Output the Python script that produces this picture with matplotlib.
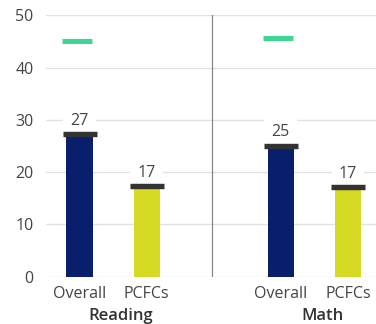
import matplotlib.pyplot as plt
import numpy as np

plt.rcParams['font.family'] = ['Open Sans', 'DejaVu Sans']

subjects = ['Reading', 'Math']
groups = ['Overall', 'PCFCs']
overall = [27.2, 25.0]
pcfcs = [17.3, 17.1]
targets = [45.0, 45.7]

navy = '#0a1f6b'
yellow = '#d6da22'
cap_col = '#333333'
green = '#3fd693'
txt = '#444444'

fig = plt.figure(figsize=(3.76, 3.24), dpi=100)
ax = fig.add_axes([46 / 376, 47.3 / 324, 330 / 376, 261.4 / 324])

pos_overall = np.array([0, 3])
pos_pcfcs = pos_overall + 1
w = 0.39

ax.bar(pos_overall, overall, width=w, color=navy, zorder=2)
ax.bar(pos_pcfcs, pcfcs, width=w, color=yellow, zorder=2)

# caps on top of bars, value labels above
for xs, vals in [(pos_overall, overall), (pos_pcfcs, pcfcs)]:
    ax.plot(xs, vals, ls='none', marker='_', ms=24.5, mew=3.9,
            color=cap_col, zorder=4)
    for x, v in zip(xs, vals):
        ax.text(x, v + 2.6, f'{round(v)}', ha='center', va='center',
                fontsize=11.5, color=txt, zorder=3,
                bbox=dict(boxstyle='square,pad=0.45', fc='white', ec='none'))

# target markers
ax.plot(pos_overall - 0.04, targets, ls='none', marker='_', ms=21.5, mew=3.6,
        color=green, zorder=3)

ax.axvline(1.97, color='#888888', lw=0.9, zorder=1)

ax.set_ylim(0, 50)
ax.set_xlim(-0.5, 4.42)
ax.set_yticks(range(0, 51, 10))
ax.yaxis.grid(True, color='#e2e2e2', lw=1, zorder=0)
ax.set_axisbelow(True)
for s in ax.spines.values():
    s.set_visible(False)
ax.tick_params(axis='y', length=0, pad=9, labelsize=11.5, labelcolor=txt)

xt = np.concatenate([pos_overall, pos_pcfcs])
ax.set_xticks(xt)
ax.set_xticklabels([groups[0]] * 2 + [groups[1]] * 2)
ax.tick_params(axis='x', length=0, pad=7, labelsize=11.5, labelcolor=txt)

for p, name in zip(pos_overall, subjects):
    ax.text(p + 0.62, -0.15, name, transform=ax.get_xaxis_transform(),
            ha='center', va='center', fontsize=12, fontweight='semibold',
            color='#333333')

fig.savefig('out.png', dpi=100)
